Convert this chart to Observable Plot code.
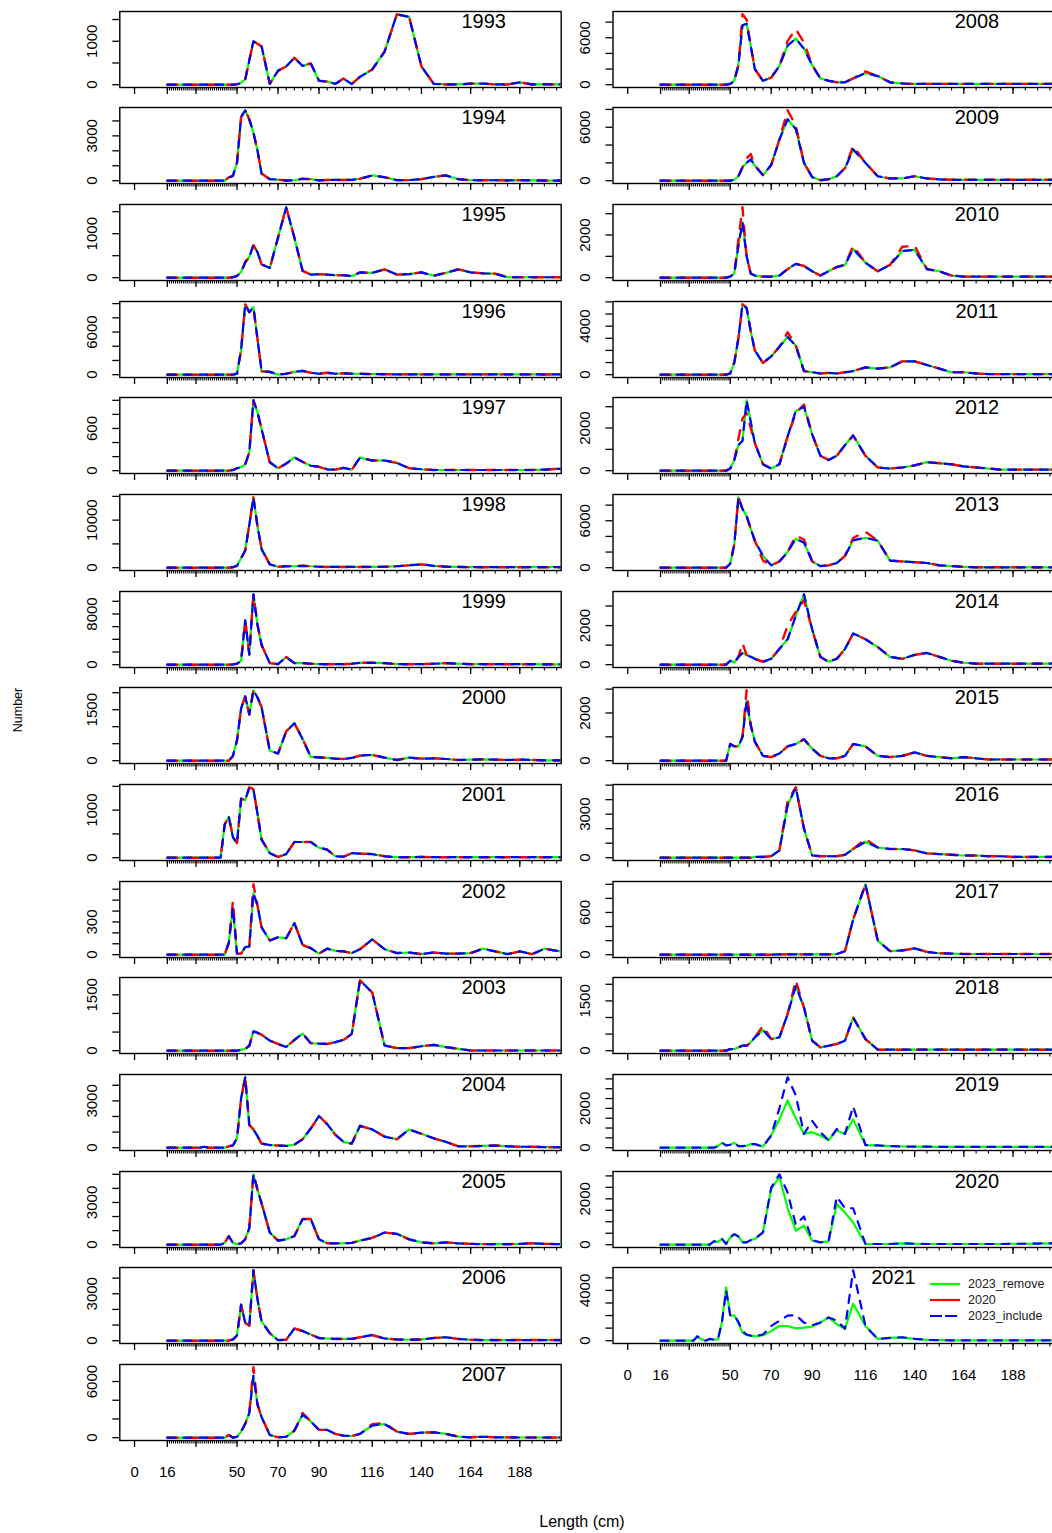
<!DOCTYPE html>
<html>
<head>
<meta charset="utf-8">
<script src="https://cdn.jsdelivr.net/npm/d3@7"></script>
<script src="https://cdn.jsdelivr.net/npm/@observablehq/plot@0.6"></script>
<style>
  body { margin: 0; background: #fff; }
  #root { position: relative; width: 1052px; height: 1533px; overflow: hidden; background: #fff;
          font-family: "Liberation Sans", Arial, Helvetica, sans-serif; color: #000; }
  .abs { position: absolute; white-space: nowrap; }
</style>
</head>
<body>
<div id="root"></div>
<script>
// ---------- length bins (cm) ----------
const len = [16,18,20,22,24,26,28,30,32,34,36,38,40,
             42,44,46,48,50,52,54,56,58,60,62,
             66,70,74,78,82,86,90,94,98,102,106,110,
             116,122,128,134,140,146,152,158,164,170,176,182,188,194,200,206,212];

// ---------- x axis ticks ----------
const xMajorTicks = [0,16,30,50,70,90,116,140,164,188];
const xTickLabels = [0,16,50,70,90,116,140,164,188];
const xMinorTicks = [16,17,18,19,20,21,22,23,24,25,26,27,28,29,30,31,32,33,34,35,36,37,38,39,40,
                     41,42,43,44,45,46,47,48,49,50,54,58,62,66,70,74,78,82,86,90,94,98,102,106,110,
                     116,122,128,134,140,146,152,158,164,170,176,182,188,194,200,206];

// ---------- 2023_include values (also 2023_remove and 2020 unless listed below) ----------
const y1993 = [0,0,0,0,0,0,0,0,0,0,0,0,0, 0,0,0,0,10,40,120,560,1000,940,880, 20,320,420,620,430,490,90,70,20,140,15,180, 350,760,1620,1560,420,20,5,5,25,25,5,5,55,5,10,5,5];
const y1994 = [0,0,0,0,0,0,0,0,0,0,0,0,0, 0,0,220,320,1200,4260,4710,4100,3230,2000,480, 100,70,10,30,130,100,20,50,50,50,50,130, 350,230,40,40,100,260,350,100,30,30,30,20,40,20,10,10,10];
const y1995 = [0,0,0,0,0,0,0,0,0,0,0,0,0, 0,0,0,10,40,130,350,470,740,580,300, 220,910,1600,910,155,70,80,70,55,55,35,120, 110,190,70,80,120,45,110,190,120,100,90,10,10,10,10,10,10];
const y1996 = [0,0,0,0,0,0,0,0,0,0,0,0,0, 0,0,0,0,140,3500,9900,8800,9500,5000,470, 400,20,130,400,540,270,130,270,130,200,130,130, 70,70,50,50,50,50,40,40,40,40,40,40,40,40,30,30,30];
const y1997 = [0,0,0,0,0,0,0,0,0,0,0,0,0, 0,0,0,10,35,50,90,260,1000,830,590, 120,35,100,190,125,70,55,20,15,40,15,185, 145,145,110,35,20,10,10,10,10,10,10,10,10,10,15,25,30];
const y1998 = [0,0,0,0,0,0,0,0,0,0,0,0,0, 0,0,0,100,400,2000,3600,9000,14800,8700,3900, 700,200,300,300,400,300,200,150,150,150,150,150, 150,200,300,500,700,400,200,150,100,100,100,100,100,100,100,100,100];
const y1999 = [0,0,0,0,0,0,0,0,0,0,0,0,0, 0,0,0,50,150,600,7000,1600,11100,6300,3100, 240,80,1200,240,240,150,80,80,80,80,150,300, 300,240,80,80,80,150,240,150,80,80,80,80,80,80,60,50,50];
const y2000 = [0,0,0,0,0,0,0,0,0,0,0,0,0, 0,0,0,140,600,1540,1890,1360,2070,1860,1570, 290,210,860,1100,640,110,100,80,60,50,80,150, 170,90,20,90,60,70,50,20,30,40,30,20,30,20,10,10,10];
const y2001 = [0,0,0,0,0,0,0,0,0,0,0,0,0, 0,700,860,430,310,1240,1210,1480,1440,920,380, 95,15,75,330,330,330,210,170,30,20,95,85, 75,30,10,10,15,10,10,10,10,10,10,10,10,10,10,10,10];
const y2002 = [0,0,0,0,0,0,0,0,0,0,0,0,0, 0,0,110,430,10,10,70,75,565,450,250, 130,160,150,290,90,60,10,55,35,30,15,50, 140,50,15,20,5,20,10,10,15,55,30,5,30,5,55,35,20];
const y2003 = [0,0,0,0,0,0,0,0,0,0,0,0,0, 0,0,0,0,0,20,50,130,520,480,430, 270,180,100,290,460,200,190,180,230,290,450,1890, 1560,140,70,70,120,155,95,50,5,5,5,5,5,5,5,5,5];
const y2004 = [0,0,0,0,0,0,0,0,0,60,0,0,0, 0,0,90,140,600,3170,4510,1460,1170,740,260, 170,140,110,200,540,1230,2030,1510,830,370,260,1400, 1170,710,540,1170,890,600,370,90,90,110,140,90,60,60,30,30,30];
const y2005 = [0,0,0,0,0,0,0,0,0,0,0,0,0, 0,130,600,130,30,100,380,1180,5000,3900,2940, 860,290,380,610,1820,1820,380,100,100,100,130,290, 480,860,770,380,160,100,160,100,60,40,40,40,60,100,60,40,40];
const y2006 = [0,0,0,0,0,0,0,0,0,0,0,0,0, 0,0,0,80,340,2300,1150,950,4500,2630,1230, 480,30,60,780,620,390,170,140,110,110,110,220, 360,140,80,60,80,170,220,110,60,40,40,40,40,40,40,40,40];
const y2007 = [0,0,0,0,0,0,0,0,0,0,0,0,0, 0,0,290,0,100,650,1480,2640,6620,3540,2200, 290,40,100,760,2460,1740,830,830,400,220,180,400, 1300,1450,650,400,540,580,400,110,40,100,40,40,20,20,20,20,20];
const y2008 = [0,0,0,0,0,0,0,0,0,0,0,0,0, 0,0,0,0,100,500,2500,7600,7800,5000,2000, 500,900,2400,5000,5900,4600,2500,800,500,300,300,800, 1500,1100,300,150,100,100,100,100,100,100,100,100,100,100,100,100,100];
const y2009 = [0,0,0,0,0,0,0,0,0,0,0,0,0, 0,0,0,0,0,100,500,1500,2000,2400,1700, 620,1760,4600,6900,5800,2000,400,50,160,500,1400,3500, 2000,500,250,250,500,250,150,100,100,100,100,100,100,100,100,100,100];
const y2010 = [0,0,0,0,0,0,0,0,0,0,0,0,0, 0,0,0,0,50,200,1500,2600,1000,200,100, 50,50,100,400,650,550,300,100,300,500,600,1350, 700,300,600,1250,1300,400,300,100,50,50,50,50,50,50,50,50,50];
const y2011 = [0,0,0,0,0,0,0,0,0,0,0,0,0, 0,0,0,0,100,1000,3000,5800,5500,3600,2000, 970,1500,2300,3100,2400,300,200,100,150,100,200,300, 600,500,600,1100,1100,800,500,200,200,100,50,50,50,50,50,50,50];
const y2012 = [0,0,0,0,0,0,0,0,0,0,0,0,0, 0,0,0,0,100,500,1200,1400,3300,2300,1300, 300,100,300,1600,2800,3000,1700,700,500,700,1200,1650, 700,150,100,150,250,400,350,300,200,150,100,50,50,50,50,50,50];
const y2013 = [0,0,0,0,0,0,0,0,0,0,0,0,0, 0,0,0,0,500,3000,9000,7500,6600,5000,3450, 1500,300,800,2000,3700,3200,800,200,300,600,1500,3500, 3830,3450,900,800,700,600,300,200,100,50,50,50,50,50,50,50,50];
const y2014 = [0,0,0,0,0,0,0,0,0,0,0,0,0, 0,0,0,0,200,100,400,600,500,400,300, 150,300,800,1300,2500,3600,1800,400,150,300,800,1600, 1300,900,400,300,500,600,400,200,100,50,50,50,50,50,50,50,50];
const y2015 = [0,0,0,0,0,0,0,0,0,0,0,0,0, 0,0,0,0,700,600,600,1000,2500,1500,800, 200,150,300,600,700,900,500,200,100,100,200,700, 600,200,150,200,350,200,150,100,150,100,50,50,50,50,50,50,50];
const y2016 = [0,0,0,0,0,0,0,0,0,0,0,0,0, 0,0,0,0,0,0,0,0,0,0,50, 50,100,500,3600,4850,2000,150,100,100,100,200,600, 1100,700,600,600,500,300,250,200,150,150,100,100,50,50,50,50,50];
const y2017 = [0,0,0,0,0,0,0,0,0,0,0,0,0, 0,0,0,0,0,0,0,0,0,0,0, 0,0,5,5,5,5,5,5,5,10,50,500, 1000,200,50,60,90,40,20,15,10,10,10,10,10,10,10,10,10];
const y2018 = [0,0,0,0,0,0,0,0,0,0,0,0,0, 0,0,0,0,50,50,100,150,150,250,400, 620,350,400,1100,1950,1300,300,100,150,200,300,1000, 350,30,30,30,30,30,30,30,30,30,30,30,30,30,30,30,30];
const y2019 = [0,0,0,0,0,0,0,0,0,0,0,0,0, 0,80,250,120,150,250,80,80,100,180,180, 50,620,2000,3580,2670,700,1360,790,380,950,700,2100, 130,115,80,60,50,50,40,40,40,40,40,40,40,40,40,40,40];
const y2020 = [0,0,0,0,0,0,0,0,0,0,0,0,0, 150,120,250,30,320,460,360,100,100,200,250, 540,2490,3070,2280,870,1230,200,100,145,2090,1590,1590, 30,30,30,60,40,30,30,30,30,30,30,30,40,40,50,60,60];
const y2021 = [0,0,0,0,0,0,0,0,0,350,100,0,140, 80,100,1500,4000,2000,2000,1500,760,490,400,350, 490,1170,1580,1990,2040,1440,1230,1440,1850,1600,950,5600, 1170,140,220,270,150,60,40,30,30,30,30,30,30,30,30,30,30];

// ---------- "2020" series: values that differ from 2023_include [length, value] ----------
const red2002 = [[48,490],[58,645]];
const red2007 = [[58,7520],[82,2640],[116,1450],[122,1550]];
const red2008 = [[56,9000],[58,8300],[78,5600],[82,7100],[86,5400],[116,1700]];
const red2009 = [[58,2500],[60,3000],[78,7900],[82,6200],[110,3900]];
const red2010 = [[54,1800],[56,3300],[110,1500],[134,1450],[140,1500]];
const red2011 = [[78,3500]];
const red2012 = [[54,1500],[56,2450],[58,2700],[60,2000],[82,2700],[86,3100]];
const red2013 = [[66,900],[82,4100],[86,3600],[110,3800],[116,4600]];
const red2014 = [[56,1100],[78,2000],[82,2700],[86,3300]];
const red2015 = [[58,2950]];
const red2016 = [[78,3900],[116,1300]];
const red2018 = [[66,750],[82,2120]];

// ---------- "2023_remove" series: values that differ from 2023_include ----------
const rem2019 = [[74,1440],[78,2400],[82,1500],[90,790],[94,620],[102,870],[110,1440]];
const rem2020 = [[70,2420],[74,2960],[78,1600],[82,610],[86,830],[90,170],[102,1770],[106,1400],[110,970]];
const rem2021 = [[48,4250],[50,2040],[54,1400],[56,630],[58,450],[66,440],[70,760],[74,1170],[78,1170],[82,980],[86,1040],[90,1120],[102,1310],[110,2940]];

// ---------- panels ----------
const years = [1993,1994,1995,1996,1997,1998,1999,2000,2001,2002,2003,2004,2005,2006,2007,
               2008,2009,2010,2011,2012,2013,2014,2015,2016,2017,2018,2019,2020,2021];
const includeVals = [y1993,y1994,y1995,y1996,y1997,y1998,y1999,y2000,y2001,y2002,y2003,y2004,y2005,y2006,y2007,
                     y2008,y2009,y2010,y2011,y2012,y2013,y2014,y2015,y2016,y2017,y2018,y2019,y2020,y2021];
const redDiffs = {2002:red2002,2007:red2007,2008:red2008,2009:red2009,2010:red2010,2011:red2011,2012:red2012,
                  2013:red2013,2014:red2014,2015:red2015,2016:red2016,2018:red2018};
const remDiffs = {2019:rem2019,2020:rem2020,2021:rem2021};
const yTickStep = [500,1000,500,2000,200,5000,2000,500,500,100,500,1000,1000,1000,2000,
                   2000,2000,1000,1000,1000,2000,1000,1000,1000,200,500,500,500,1000];
const yTickLabels = [[0,1000],[0,3000],[0,1000],[0,6000],[0,600],[0,10000],[0,8000],[0,1500],[0,1000],[0,300],
                     [0,1500],[0,3000],[0,3000],[0,3000],[0,6000],
                     [0,6000],[0,6000],[0,2000],[0,4000],[0,2000],[0,6000],[0,2000],[0,2000],[0,3000],[0,600],
                     [0,1500],[0,2000],[0,2000],[0,4000]];
const legendNames = ["2023_remove","2020","2023_include"];
const legendColors = ["#00ff00","#ff0000","#0000ff"];

function buildSeries(vals, diffs) {
  const m = new Map(diffs || []);
  return len.map((l, i) => ({len: l, v: m.has(l) ? m.get(l) : vals[i]}));
}

const BOX_W = 441.4, BOX_H = 76, PITCH = 96.67, TOP0 = 10.5;
const FONT = '"Liberation Sans", Arial, Helvetica, sans-serif';
const root = document.getElementById("root");

years.forEach((yr, i) => {
  const col = i < 15 ? 0 : 1;
  const row = col ? i - 15 : i;
  const bottom = (i === 14 || i === 28);
  const ML = col ? 37.5 : 119.3;
  const W = col ? 479 : 575;
  const MR = W - ML - BOX_W;
  const MT = 10, MB = bottom ? 46 : 11;
  const H = MT + BOX_H + MB;

  const inc = buildSeries(includeVals[i], null);
  const hasRed = yr <= 2018;
  const red = hasRed ? buildSeries(includeVals[i], redDiffs[yr]) : [];
  const rem = buildSeries(includeVals[i], remDiffs[yr]);
  const M = d3.max([...inc, ...red, ...rem], d => d.v);
  const yTicks = d3.range(0, 1.04 * M + 1e-6, yTickStep[i]);

  const marks = [
    Plot.frame({stroke: "black", strokeWidth: 1.4}),
    Plot.ruleX(xMinorTicks, {x: d => d, insetTop: BOX_H, insetBottom: -3.5, stroke: "black", strokeWidth: 1.1}),
    Plot.ruleX(xMajorTicks, {x: d => d, insetTop: BOX_H, insetBottom: -7, stroke: "black", strokeWidth: 1.3}),
    Plot.ruleY(yTicks, {y: d => d, insetLeft: -7, insetRight: BOX_W, stroke: "black", strokeWidth: 1.3}),
    Plot.line(rem, {x: "len", y: "v", stroke: "#00ff00", strokeWidth: 2.2, clip: true}),
  ];
  if (hasRed) marks.push(Plot.line(red, {x: "len", y: "v", stroke: "#ff0000", strokeWidth: 2.4, strokeDasharray: "10,10", clip: true}));
  marks.push(Plot.line(inc, {x: "len", y: "v", stroke: "#0000ff", strokeWidth: 2.2, strokeDasharray: "8,8", clip: true}));
  marks.push(Plot.text(yTickLabels[i], {y: d => d, text: d => String(d), frameAnchor: "left", dx: -28,
    rotate: -90, textAnchor: "middle", lineAnchor: "middle", fontSize: 15, fill: "black"}));
  marks.push(Plot.text([yr], {text: d => String(d), frameAnchor: "top-right", dx: yr === 2021 ? -161 : -77.5, dy: 10.5,
    textAnchor: "middle", lineAnchor: "middle", fontSize: 20, fill: "black"}));
  if (bottom) {
    marks.push(Plot.text(xTickLabels, {x: d => d, text: d => String(d), frameAnchor: "bottom", dy: 32,
      textAnchor: "middle", lineAnchor: "middle", fontSize: 15, fill: "black"}));
  }

  const svg = Plot.plot({
    width: W, height: H,
    marginLeft: ML, marginRight: MR, marginTop: MT, marginBottom: MB,
    x: {domain: [-7.2, 208.2], axis: null},
    y: {domain: [-0.04 * M, 1.04 * M], axis: null},
    style: {background: "transparent", overflow: "visible", fontFamily: FONT},
    marks
  });
  svg.style.position = "absolute";
  svg.style.left = (col ? 575 : 0) + "px";
  svg.style.top = (TOP0 + PITCH * row - MT) + "px";
  svg.style.maxWidth = "none";
  root.appendChild(svg);
});

// ---------- legend (inside the 2021 panel) ----------
const leg = d3.select(root).append("svg")
  .attr("class", "abs")
  .style("left", "925px").style("top", "1274px")
  .attr("width", 127).attr("height", 52)
  .style("font-family", FONT);
legendNames.forEach((name, k) => {
  const yy = 10 + 16 * k;
  leg.append("line").attr("x1", 5).attr("x2", 35).attr("y1", yy).attr("y2", yy)
    .attr("stroke", legendColors[k]).attr("stroke-width", 2.2)
    .attr("stroke-dasharray", k === 2 ? "12,3" : null);
  leg.append("text").attr("x", 43).attr("y", yy).attr("dy", "0.35em")
    .attr("font-size", 12.5).attr("fill", "#222").text(name);
});

// ---------- axis titles ----------
const yTitle = document.createElement("div");
yTitle.className = "abs";
yTitle.textContent = "Number";
Object.assign(yTitle.style, {left: "18px", top: "710px", transform: "translate(-50%,-50%) rotate(-90deg)", fontSize: "12.5px"});
root.appendChild(yTitle);

const xTitle = document.createElement("div");
xTitle.className = "abs";
xTitle.textContent = "Length (cm)";
Object.assign(xTitle.style, {left: "582px", top: "1522px", transform: "translate(-50%,-50%)", fontSize: "16px"});
root.appendChild(xTitle);
</script>
</body>
</html>
